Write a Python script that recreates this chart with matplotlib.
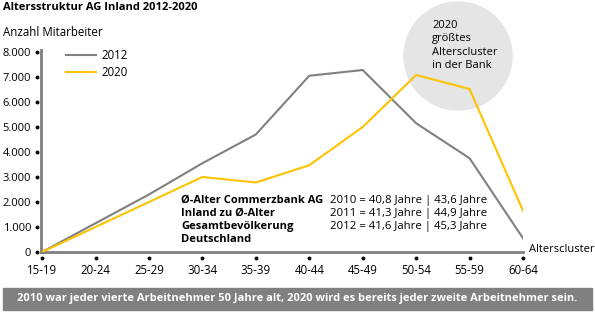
import matplotlib.pyplot as plt
from matplotlib.patches import Ellipse
import matplotlib.transforms as mtransforms

plt.rcParams['font.family'] = ['Open Sans', 'DejaVu Sans']

# Alterscluster und Mitarbeiterzahlen
cluster = ["15-19", "20-24", "25-29", "30-34", "35-39",
           "40-44", "45-49", "50-54", "55-59", "60-64"]
werte_2012 = [0, 1150, 2300, 3550, 4700, 7050, 7280, 5150, 3750, 550]
werte_2020 = [0, 1000, 2000, 3000, 2780, 3470, 5000, 7080, 6520, 1650]
y_ticks = [0, 1000, 2000, 3000, 4000, 5000, 6000, 7000, 8000]
y_labels = ["0", "1.000", "2.000", "3.000", "4.000", "5.000", "6.000", "7.000", "8.000"]

grau = '#808080'
gelb = '#FDC300'

fig = plt.figure(figsize=(5.95, 3.14), dpi=100)
ax = fig.add_axes([41 / 595, 62 / 314, 482 / 595, 202 / 314])

x = list(range(len(cluster)))
ax.plot(x, werte_2012, color=grau, lw=1.5, label='2012', zorder=3)
ax.plot(x, werte_2020, color=gelb, lw=1.5, label='2020', zorder=3)

ax.set_xlim(-0.02, len(cluster) - 1)
ax.set_ylim(0, 8080)

for s in ['top', 'right']:
    ax.spines[s].set_visible(False)
for s in ['left', 'bottom']:
    ax.spines[s].set_color(grau)
    ax.spines[s].set_linewidth(2)

ax.set_xticks(x)
ax.set_xticklabels(cluster, fontsize=8.3)
ax.set_yticks(y_ticks)
ax.set_yticklabels(y_labels, fontsize=8)
ax.tick_params(axis='x', length=0, pad=9)
ax.tick_params(axis='y', length=0, pad=7)

# Punkte statt Tickstriche
ty = mtransforms.blended_transform_factory(ax.transAxes, ax.transData)
tx = mtransforms.blended_transform_factory(ax.transData, ax.transAxes)
ax.plot([-0.009] * len(y_ticks), y_ticks, 'o', color='black', ms=1.8,
        transform=ty, clip_on=False)
ax.plot(x, [-0.03] * len(x), 'o', color='black', ms=1.8,
        transform=tx, clip_on=False)

# grauer Kreis hinter den Linien
kreis = Ellipse((458 / 595, 1 - 56 / 314), 108 / 595, 108 / 314,
                transform=fig.transFigure, color='#e5e5e5', zorder=1,
                clip_on=False)
ax.add_patch(kreis)
ax.text(432 / 595, 1 - 20 / 314, "2020\ngrößtes\nAlterscluster\nin der Bank",
        transform=fig.transFigure, fontsize=8, va='top', ha='left',
        linespacing=1.3, zorder=2)

leg = ax.legend(loc='upper left', bbox_to_anchor=(0.03, 1.055), frameon=False,
                fontsize=8.3, handlelength=2.6, handletextpad=0.5, labelspacing=0.35)

fig.text(3 / 595, 1 - 8 / 314, "Altersstruktur AG Inland 2012-2020",
         fontsize=8, fontweight='bold', va='center')
fig.text(3 / 595, 1 - 32 / 314, "Anzahl Mitarbeiter", fontsize=8.3, va='center')

fig.text(181 / 595, 1 - 195 / 314,
         "Ø-Alter Commerzbank AG\nInland zu Ø-Alter\nGesamtbevölkerung\nDeutschland",
         fontsize=8, fontweight='bold', va='top', linespacing=1.25)
fig.text(330 / 595, 1 - 195 / 314,
         "2010 = 40,8 Jahre | 43,6 Jahre\n2011 = 41,3 Jahre | 44,9 Jahre\n2012 = 41,6 Jahre | 45,3 Jahre",
         fontsize=8.2, va='top', linespacing=1.25)
fig.text(529 / 595, 1 - 249 / 314, "Alterscluster", fontsize=8, va='center')

# Fußzeile
fig.patches.append(plt.Rectangle((3 / 595, 1 - 310 / 314), 589 / 595, 22 / 314,
                                 transform=fig.transFigure, color='#808080'))
fig.text(297 / 595, 1 - 299 / 314,
         "2010 war jeder vierte Arbeitnehmer 50 Jahre alt, 2020 wird es bereits jeder zweite Arbeitnehmer sein.",
         fontsize=8, color='white', fontweight='bold', ha='center', va='center')

fig.savefig('out.png', dpi=100)
